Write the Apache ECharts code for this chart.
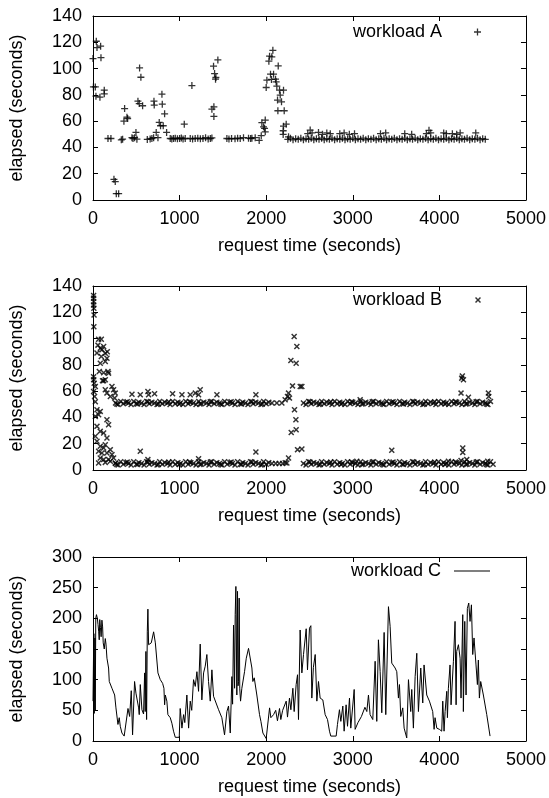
<!DOCTYPE html>
<html>
<head>
<meta charset="utf-8">
<script src="https://cdn.jsdelivr.net/npm/echarts@6/dist/echarts.min.js"></script>
<style>
html, body { margin: 0; padding: 0; background: #fff; }
#chart { width: 549px; height: 798px; }
</style>
</head>
<body>
<div id="chart"></div>
<script>
// 三个面板: request time (秒) -> elapsed (秒)
var aXTicks = [0, 1000, 2000, 3000, 4000, 5000];

// workload A: 零散的点
var aWorkloadA = [
    [0, 107.6], [38, 120.8], [46, 116], [88, 117], [92, 108.3], [5, 86], [27, 86], [34, 79], [80, 78.2], [130, 83.6], [130, 80.8],
    [173, 46.8], [207, 46.8], [242, 15.7], [257, 14], [269, 4.8], [296, 4.8], [327, 45.8], [342, 46.3], [365, 69.6], [357, 60], [392, 63], [400, 62],
    [450, 47.4], [462, 46.8], [480, 47.4], [507, 46.3], [496, 51.4], [538, 100.5], [553, 93.4], [519, 75.2], [534, 73.4], [573, 71.7],
    [627, 46.1], [660, 46.5], [680, 46.8], [700, 47.4], [704, 75.2], [707, 72.2], [730, 51.4], [750, 47.4], [765, 59], [780, 56.5], [796, 80.5], [800, 72.9], [811, 56.5], [827, 65.6], [850, 51.4],
    [892, 46.8], [910, 46.5], [930, 46.8], [950, 47], [975, 46.6], [1000, 46.8], [1020, 47.2], [1040, 46.5], [1065, 46.8], [1054, 57.7], [1142, 87.1],
    [1123, 46.8], [1150, 46.5], [1180, 46.8], [1210, 47], [1240, 46.6], [1270, 46.8], [1300, 47.4], [1330, 46.5], [1355, 46.8], [1373, 47.2],
    [1373, 69.1], [1396, 70.9], [1396, 63.6], [1392, 101.8], [1404, 96.2], [1419, 93.2], [1415, 91.9], [1442, 106.6],
    [1546, 46.8], [1570, 46.5], [1600, 46.8], [1640, 46.6], [1670, 47], [1700, 46.8], [1738, 47.4], [1796, 47], [1820, 46.8], [1835, 47], [1873, 47.4], [1919, 45.3], [1943, 48.9],
    [1950, 58.8], [1969, 55.7], [1981, 54.5], [1989, 60.8], [1989, 51.9], [2000, 85.6], [2008, 91.2], [2031, 105.6], [2039, 109.4], [2077, 113.9], [2065, 108.9],
    [2050, 95.7], [2085, 95.7], [2061, 91.7], [2108, 91.9], [2139, 102], [2123, 86.6], [2115, 89.9], [2154, 83.6], [2162, 79.8], [2200, 83.6], [2131, 76],
    [2177, 74.7], [2135, 67.9], [2208, 67.9], [2200, 56.2], [2231, 57.7], [2196, 52.7], [2196, 49.9], [2258, 48.1],
    [2480, 50.5], [2508, 53.2], [2530, 51], [2604, 51.4], [2650, 50], [2700, 51], [2740, 50.5], [2850, 50.5], [2900, 51], [2960, 50], [3020, 50.5],
    [3320, 50.5], [3380, 51], [3600, 50.5], [3680, 50], [3850, 50.5], [3880, 53], [3900, 51], [4050, 51], [4080, 50.5], [4150, 50.5], [4200, 50], [4240, 51], [4420, 51]
];
// workload A: 2250 秒之后的密集带
var aBandA = [
    [2250, 46.2], [2280, 47], [2310, 45.8], [2340, 46.6], [2370, 46.2], [2400, 47], [2430, 45.8], [2460, 46.6], [2490, 46.2], [2520, 47],
    [2550, 45.8], [2580, 46.6], [2610, 46.2], [2640, 47], [2670, 45.8], [2700, 46.6], [2730, 46.2], [2760, 47], [2790, 45.8], [2820, 46.6],
    [2850, 46.2], [2880, 47], [2910, 45.8], [2940, 46.6], [2970, 46.2], [3000, 47], [3030, 45.8], [3060, 46.6], [3090, 46.2], [3120, 47],
    [3150, 45.8], [3180, 46.6], [3210, 46.2], [3240, 47], [3270, 45.8], [3300, 46.6], [3330, 46.2], [3360, 47], [3390, 45.8], [3420, 46.6],
    [3450, 46.2], [3480, 47], [3510, 45.8], [3540, 46.6], [3570, 46.2], [3600, 47], [3630, 45.8], [3660, 46.6], [3690, 46.2], [3720, 47],
    [3750, 45.8], [3780, 46.6], [3810, 46.2], [3840, 47], [3870, 45.8], [3900, 46.6], [3930, 46.2], [3960, 47], [3990, 45.8], [4020, 46.6],
    [4050, 46.2], [4080, 47], [4110, 45.8], [4140, 46.6], [4170, 46.2], [4200, 47], [4230, 45.8], [4260, 46.6], [4290, 46.2], [4320, 47],
    [4350, 45.8], [4380, 46.6], [4410, 46.2], [4440, 47], [4470, 45.8], [4500, 46.6], [4530, 46.2]
];

// workload B: 零散的点
var aWorkloadB = [
    [7, 132.8], [7, 130.6], [8, 128], [7, 125.5], [10, 123], [12, 118], [10, 109],
    [7, 71], [8, 68.6], [14, 66], [27, 63.5], [7, 59.7], [18, 56], [27, 52],
    [65, 99.5], [96, 99.5], [57, 95], [84, 92.6], [103, 91.4], [142, 88.9], [165, 90], [123, 93.9], [46, 89], [96, 86.3], [161, 85], [142, 82.5], [84, 81.3],
    [73, 75], [123, 74], [173, 75], [180, 73.7], [142, 68.6], [123, 68], [110, 68],
    [219, 63.5], [238, 61], [257, 58.5], [250, 54.7], [200, 56], [161, 58.5], [142, 61],
    [46, 45.8], [84, 44.6], [65, 42], [27, 40.8], [161, 38.2], [180, 34.4], [46, 33.2], [27, 25.6], [84, 29.4], [123, 28.1], [161, 24.3],
    [46, 21.8], [84, 18], [123, 16.7], [142, 19.2], [200, 15.5], [65, 14.2], [103, 12.9], [161, 12.9], [219, 11.7], [84, 9.1], [123, 7.9],
    [180, 7.9], [238, 9.1], [65, 5.3], [142, 5.8], [200, 6.6], [257, 5.3],
    [450, 57.7], [546, 57.2], [634, 59.7], [642, 57.2], [711, 58], [919, 58], [1027, 57.2], [1123, 57.2], [1181, 58.5], [1238, 61], [1219, 57.2], [1431, 57.2], [1881, 57.2],
    [546, 14.2], [634, 7.9], [1219, 8.6], [1881, 13.7],
    [2066, 51], [2123, 51], [2181, 51], [2219, 53.4], [2258, 58.5], [2246, 56], [2269, 54.7],
    [2285, 83.3], [2346, 81.3], [2323, 101.5], [2354, 93.9], [2304, 64], [2393, 63.5], [2412, 63.5],
    [2327, 45.8], [2343, 38.2], [2346, 30.6], [2289, 28.6], [2362, 15.5], [2412, 16], [2258, 9.1], [2239, 5.3],
    [2066, 5], [2110, 5], [2150, 5], [2190, 5], [2220, 5.5],
    [3085, 53.4], [4258, 69.9], [4265, 71.5], [4278, 68.6], [4250, 58.5], [4335, 55.4], [4566, 58.5], [4570, 56],
    [3450, 15], [4270, 16.7], [4270, 13.4], [4250, 7.3], [4316, 7.9], [3046, 6.6], [4104, 6.6], [4558, 6.6]
];
// workload B: 上面的密集带 (~51 秒)
var aBandHighB = [
    [260, 51], [290, 49.8], [320, 52.2], [350, 50.5], [380, 51.6], [410, 51], [440, 49.8], [470, 52.2], [500, 50.5], [530, 51.6],
    [560, 51], [590, 49.8], [620, 52.2], [650, 50.5], [680, 51.6], [710, 51], [740, 49.8], [770, 52.2], [800, 50.5], [830, 51.6],
    [860, 51], [890, 49.8], [920, 52.2], [950, 50.5], [980, 51.6], [1010, 51], [1040, 49.8], [1070, 52.2], [1100, 50.5], [1130, 51.6],
    [1160, 51], [1190, 49.8], [1220, 52.2], [1250, 50.5], [1280, 51.6], [1310, 51], [1340, 49.8], [1370, 52.2], [1400, 50.5], [1430, 51.6],
    [1460, 51], [1490, 49.8], [1520, 52.2], [1550, 50.5], [1580, 51.6], [1610, 51], [1640, 49.8], [1670, 52.2], [1700, 50.5], [1730, 51.6],
    [1760, 51], [1790, 49.8], [1820, 52.2], [1850, 50.5], [1880, 51.6], [1910, 51], [1940, 49.8], [1970, 52.2], [2000, 50.5], [2030, 51.6],
    [2430, 51], [2460, 49.8], [2490, 52.2], [2520, 50.5], [2550, 51.6], [2580, 51], [2610, 49.8], [2640, 52.2], [2670, 50.5], [2700, 51.6],
    [2730, 51], [2760, 49.8], [2790, 52.2], [2820, 50.5], [2850, 51.6], [2880, 51], [2910, 49.8], [2940, 52.2], [2970, 50.5], [3000, 51.6],
    [3030, 51], [3060, 49.8], [3090, 52.2], [3120, 50.5], [3150, 51.6], [3180, 51], [3210, 49.8], [3240, 52.2], [3270, 50.5], [3300, 51.6],
    [3330, 51], [3360, 49.8], [3390, 52.2], [3420, 50.5], [3450, 51.6], [3480, 51], [3510, 49.8], [3540, 52.2], [3570, 50.5], [3600, 51.6],
    [3630, 51], [3660, 49.8], [3690, 52.2], [3720, 50.5], [3750, 51.6], [3780, 51], [3810, 49.8], [3840, 52.2], [3870, 50.5], [3900, 51.6],
    [3930, 51], [3960, 49.8], [3990, 52.2], [4020, 50.5], [4050, 51.6], [4080, 51], [4110, 49.8], [4140, 52.2], [4170, 50.5], [4200, 51.6],
    [4230, 51], [4260, 49.8], [4290, 52.2], [4320, 50.5], [4350, 51.6], [4380, 51], [4410, 49.8], [4440, 52.2], [4470, 50.5], [4500, 51.6],
    [4530, 51], [4560, 49.8], [4590, 52.2],
    [275, 50.2], [395, 52], [515, 50.2], [635, 52], [755, 50.2], [875, 52], [995, 50.2], [1115, 52], [1235, 50.2], [1355, 52],
    [1475, 50.2], [1595, 52], [1715, 50.2], [1835, 52], [1955, 50.2], [2505, 52], [2625, 50.2], [2745, 52], [2865, 50.2], [2985, 52],
    [3105, 50.2], [3225, 52], [3345, 50.2], [3465, 52], [3585, 50.2], [3705, 52], [3825, 50.2], [3945, 52], [4065, 50.2], [4185, 52],
    [4305, 50.2], [4425, 52], [4545, 50.2]
];
// workload B: 下面的密集带 (~5 秒)
var aBandLowB = [
    [260, 5], [290, 3.8], [320, 6.2], [350, 4.4], [380, 5.6], [410, 5], [440, 3.8], [470, 6.2], [500, 4.4], [530, 5.6],
    [560, 5], [590, 3.8], [620, 6.2], [650, 4.4], [680, 5.6], [710, 5], [740, 3.8], [770, 6.2], [800, 4.4], [830, 5.6],
    [860, 5], [890, 3.8], [920, 6.2], [950, 4.4], [980, 5.6], [1010, 5], [1040, 3.8], [1070, 6.2], [1100, 4.4], [1130, 5.6],
    [1160, 5], [1190, 3.8], [1220, 6.2], [1250, 4.4], [1280, 5.6], [1310, 5], [1340, 3.8], [1370, 6.2], [1400, 4.4], [1430, 5.6],
    [1460, 5], [1490, 3.8], [1520, 6.2], [1550, 4.4], [1580, 5.6], [1610, 5], [1640, 3.8], [1670, 6.2], [1700, 4.4], [1730, 5.6],
    [1760, 5], [1790, 3.8], [1820, 6.2], [1850, 4.4], [1880, 5.6], [1910, 5], [1940, 3.8], [1970, 6.2], [2000, 4.4], [2030, 5.6],
    [2430, 5], [2460, 3.8], [2490, 6.2], [2520, 4.4], [2550, 5.6], [2580, 5], [2610, 3.8], [2640, 6.2], [2670, 4.4], [2700, 5.6],
    [2730, 5], [2760, 3.8], [2790, 6.2], [2820, 4.4], [2850, 5.6], [2880, 5], [2910, 3.8], [2940, 6.2], [2970, 4.4], [3000, 5.6],
    [3030, 5], [3060, 3.8], [3090, 6.2], [3120, 4.4], [3150, 5.6], [3180, 5], [3210, 3.8], [3240, 6.2], [3270, 4.4], [3300, 5.6],
    [3330, 5], [3360, 3.8], [3390, 6.2], [3420, 4.4], [3450, 5.6], [3480, 5], [3510, 3.8], [3540, 6.2], [3570, 4.4], [3600, 5.6],
    [3630, 5], [3660, 3.8], [3690, 6.2], [3720, 4.4], [3750, 5.6], [3780, 5], [3810, 3.8], [3840, 6.2], [3870, 4.4], [3900, 5.6],
    [3930, 5], [3960, 3.8], [3990, 6.2], [4020, 4.4], [4050, 5.6], [4080, 5], [4110, 3.8], [4140, 6.2], [4170, 4.4], [4200, 5.6],
    [4230, 5], [4260, 3.8], [4290, 6.2], [4320, 4.4], [4350, 5.6], [4380, 5], [4410, 3.8], [4440, 6.2], [4470, 4.4], [4500, 5.6],
    [4530, 5], [4560, 3.8], [4590, 6.2], [4620, 4.4],
    [275, 4.2], [395, 6], [515, 4.2], [635, 6], [755, 4.2], [875, 6], [995, 4.2], [1115, 6], [1235, 4.2], [1355, 6],
    [1475, 4.2], [1595, 6], [1715, 4.2], [1835, 6], [1955, 4.2], [2505, 6], [2625, 4.2], [2745, 6], [2865, 4.2], [2985, 6],
    [3105, 4.2], [3225, 6], [3345, 4.2], [3465, 6], [3585, 4.2], [3705, 6], [3825, 4.2], [3945, 6], [4065, 4.2], [4185, 6],
    [4305, 4.2], [4425, 6], [4545, 4.2]
];

// workload C: 折线
var aWorkloadC = [
    [0, 65], [6, 140], [10, 175], [14, 45], [18, 100], [22, 168], [26, 50], [32, 200], [40, 206], [50, 200], [58, 190], [66, 178], [72, 165],
    [78, 198], [86, 185], [94, 170], [103, 197], [111, 186], [118, 160], [123, 163], [130, 150], [142, 167], [150, 158], [161, 135], [180, 119],
    [188, 97], [219, 86], [250, 75], [265, 54], [288, 27], [303, 38], [315, 24], [334, 13], [360, 8], [380, 5], [404, 53], [423, 40], [442, 82],
    [457, 10], [480, 97], [496, 78], [527, 54], [534, 43], [546, 92], [565, 51], [584, 44], [596, 111], [603, 48], [611, 146], [619, 35],
    [627, 178], [634, 215], [642, 157], [673, 160], [700, 178], [720, 160], [750, 111], [777, 100], [804, 94], [819, 86], [827, 59], [835, 75],
    [853, 65], [865, 43], [892, 38], [911, 29], [930, 16], [950, 6], [969, 8], [996, 6], [1007, 53], [1027, 21], [1046, 43], [1060, 30],
    [1084, 75], [1104, 21], [1123, 65], [1140, 50], [1161, 100], [1181, 89], [1200, 113], [1219, 81], [1238, 158], [1257, 67], [1277, 111],
    [1296, 122], [1315, 141], [1334, 97], [1354, 65], [1373, 116], [1392, 73], [1411, 70], [1450, 51], [1488, 38], [1519, 10], [1546, 48],
    [1565, 57], [1585, 13], [1604, 105], [1612, 60], [1623, 189], [1635, 86], [1642, 206], [1650, 252], [1661, 75], [1669, 244], [1675, 90],
    [1681, 97], [1688, 233], [1695, 85], [1704, 65], [1719, 86], [1750, 113], [1770, 135], [1796, 151], [1835, 119], [1846, 97], [1862, 103],
    [1892, 75], [1923, 43], [1939, 32], [1962, 13], [2000, 4], [2039, 54], [2054, 38], [2085, 43], [2110, 50], [2130, 33], [2154, 53],
    [2169, 35], [2190, 50], [2208, 48], [2231, 65], [2246, 39], [2269, 70], [2285, 51], [2308, 86], [2323, 48], [2346, 92], [2362, 108],
    [2373, 35], [2392, 181], [2412, 111], [2431, 141], [2462, 183], [2477, 116], [2500, 184], [2516, 188], [2527, 70], [2545, 120],
    [2566, 141], [2585, 65], [2604, 97], [2623, 70], [2654, 67], [2681, 43], [2708, 35], [2731, 16], [2746, 8], [2808, 8], [2823, 27],
    [2846, 51], [2862, 32], [2885, 57], [2900, 16], [2923, 59], [2939, 24], [2962, 70], [2977, 21], [3016, 84], [3027, 19], [3060, 30],
    [3100, 40], [3140, 55], [3162, 48], [3181, 75], [3200, 43], [3231, 35], [3258, 130], [3277, 32], [3296, 165], [3316, 113], [3335, 46],
    [3362, 177], [3381, 43], [3412, 219], [3431, 187], [3450, 127], [3489, 119], [3508, 113], [3527, 70], [3539, 92], [3554, 40], [3577, 54],
    [3593, 21], [3623, 5], [3643, 100], [3669, 48], [3681, 84], [3700, 21], [3720, 105], [3739, 143], [3758, 48], [3785, 119], [3808, 62],
    [3823, 124], [3854, 75], [3885, 65], [3923, 48], [3939, 19], [3950, 38], [3970, 21], [4000, 19], [4027, 16], [4039, 65], [4054, 16],
    [4066, 48], [4085, 81], [4093, 38], [4104, 86], [4123, 124], [4135, 59], [4162, 130], [4181, 195], [4193, 59], [4200, 146], [4220, 157],
    [4239, 135], [4250, 70], [4270, 206], [4277, 48], [4293, 195], [4308, 75], [4323, 216], [4339, 225], [4354, 195], [4370, 222], [4385, 141],
    [4400, 168], [4423, 124], [4439, 92], [4450, 132], [4462, 70], [4477, 97], [4508, 75], [4547, 43], [4585, 8]
];

var sFont = 'Liberation Sans';
var iFontSize = 18;
// gnuplot 风格的 + 和 x 点
var sPlus = 'path://M2.45,0h1.1v2.45h2.45v1.1h-2.45v2.45h-1.1v-2.45h-2.45v-1.1h2.45z';
var sCross = 'path://M0,0.85L0.85,0L2.5,1.65L4.15,0L5,0.85L3.35,2.5L5,4.15L4.15,5L2.5,3.35L0.85,5L0,4.15L1.65,2.5Z';
var sLineIcon = 'path://M0,0H36V1H0Z';

function FormatTick(value) {
    return String(value);
}

function GetXAxis(iGrid, bBottom) {
    return {
        type: 'value', gridIndex: iGrid, position: bBottom ? 'bottom' : 'top',
        min: aXTicks[0], max: aXTicks[aXTicks.length - 1], interval: 1000,
        name: bBottom ? 'request time (seconds)' : '',
        nameLocation: 'middle', nameGap: 37,
        nameTextStyle: {color: '#000', fontSize: iFontSize, fontFamily: sFont},
        axisLine: {show: true, onZero: false, lineStyle: {color: '#000', width: 1}},
        axisTick: {show: true, inside: true, length: 5, lineStyle: {color: '#000'}},
        axisLabel: {show: bBottom, color: '#000', fontSize: iFontSize, fontFamily: sFont, margin: 10, formatter: FormatTick},
        splitLine: {show: false}
    };
}

function GetYAxis(iGrid, bLeft, iMax, iInterval) {
    return {
        type: 'value', gridIndex: iGrid, position: bLeft ? 'left' : 'right',
        min: 0, max: iMax, interval: iInterval,
        name: bLeft ? 'elapsed (seconds)' : '',
        nameLocation: 'middle', nameGap: 67,
        nameTextStyle: {color: '#000', fontSize: iFontSize, fontFamily: sFont},
        axisLine: {show: true, onZero: false, lineStyle: {color: '#000', width: 1}},
        axisTick: {show: true, inside: true, length: 5, lineStyle: {color: '#000'}},
        axisLabel: {show: bLeft, color: '#000', fontSize: iFontSize, fontFamily: sFont, margin: 11, formatter: FormatTick},
        splitLine: {show: false}
    };
}

function GetLegend(jItem, iTop, iRight, iWidth, iHeight, iGap) {
    return {
        data: [jItem], top: iTop, right: iRight, align: 'right', padding: 0,
        itemWidth: iWidth, itemHeight: iHeight,
        selectedMode: false,
        textStyle: {color: '#000', fontSize: iFontSize, fontFamily: sFont, padding: [0, iGap, 0, 0]}
    };
}

function GetOption() {
    var aGridTop = [16, 286, 557];
    var aGrid = [], aX = [], aY = [];
    var aYMax = [140, 140, 300], aYInterval = [20, 20, 50];
    for (var i = 0; i < 3; i++) {
        aGrid.push({left: 93, right: 23, top: aGridTop[i], height: 184});
        aX.push(GetXAxis(i, true), GetXAxis(i, false));
        aY.push(GetYAxis(i, true, aYMax[i], aYInterval[i]), GetYAxis(i, false, aYMax[i], aYInterval[i]));
    }
    var jOption = {
        backgroundColor: '#fff',
        animation: false,
        grid: aGrid,
        xAxis: aX,
        yAxis: aY,
        legend: [
            GetLegend('workload A', 23, 68, 7, 7, 27),
            GetLegend('workload B', 291, 68, 6, 6, 28),
            GetLegend({name: 'workload C', icon: sLineIcon}, 562, 59, 36, 1, 8)
        ],
        series: [
            {
                name: 'workload A', type: 'scatter', xAxisIndex: 0, yAxisIndex: 0,
                symbol: sPlus, symbolSize: 7,
                itemStyle: {color: '#000'},
                data: aWorkloadA.concat(aBandA)
            },
            {
                name: 'workload B', type: 'scatter', xAxisIndex: 2, yAxisIndex: 2,
                symbol: sCross, symbolSize: 6,
                itemStyle: {color: '#000'},
                data: aWorkloadB.concat(aBandHighB, aBandLowB)
            },
            {
                name: 'workload C', type: 'line', xAxisIndex: 4, yAxisIndex: 4,
                symbol: 'none', showSymbol: false,
                lineStyle: {color: '#000', width: 1},
                itemStyle: {color: '#000'},
                data: aWorkloadC
            }
        ]
    };
    return jOption;
}

var oChart = echarts.init(document.getElementById('chart'), null, {renderer: 'canvas'});
oChart.setOption(GetOption());
</script>
</body>
</html>
